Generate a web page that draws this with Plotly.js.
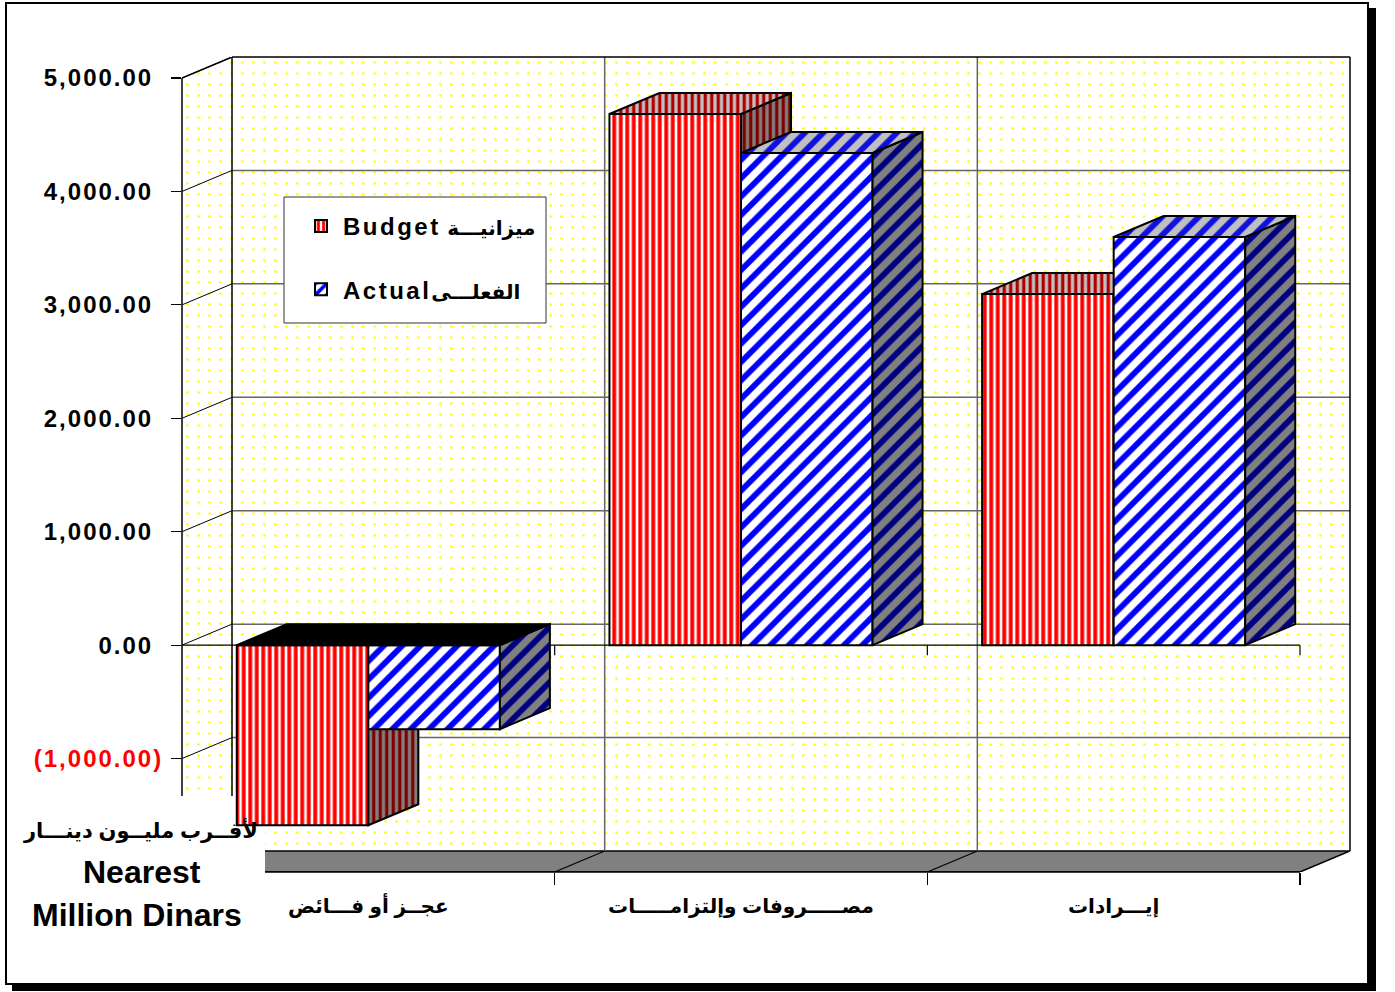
<!DOCTYPE html>
<html><head><meta charset="utf-8">
<script src="https://cdn.plot.ly/plotly-3.0.1.min.js"></script>
<style>
html,body{margin:0;padding:0;background:#fff;}
#chart{width:1395px;height:992px;position:absolute;left:0;top:0;}
#frame{position:absolute;left:5px;top:2px;width:1360px;height:979px;border:2px solid #000;box-shadow:7px 6px 0 #000;pointer-events:none;}
.ytick text{letter-spacing:2px;}
</style></head>
<body>
<div id="chart"></div><div id="frame"></div>
<script>
// ---------- data ----------
const categories = ["عجــز أو فـــائض", "مصـــــروفات وإلتزامـــــات", "إيـــرادات"];
const budgetValues = [-1588, 4683, 3095];
const actualValues = [-741, 4339, 3598];
const seriesLatin = ["Budget", "Actual"];
const seriesArabic = ["ميزانيـــة", "الفعلـــى"];
const yTickVals = [-1000, 0, 1000, 2000, 3000, 4000, 5000];
const yTickText = ["(1,000.00)", "0.00", "1,000.00", "2,000.00", "3,000.00", "4,000.00", "5,000.00"];
const yTickColors = ["#FF0000", "#000000", "#000000", "#000000", "#000000", "#000000", "#000000"];
const axisTitleLines = ["لأقــرب مليــون دينـــار", "Nearest", "Million Dinars"];

// ---------- geometry ----------
const W = 1395, H = 992;
const M = {l:182, r:45, t:57, b:120};
const plotW = W - M.l - M.r, plotH = H - M.t - M.b;
const nCat = categories.length;
const yMin = -2000, yTop = 5000;
const depthPx = 50, depthPy = 21;
const dx = depthPx * nCat / (plotW - depthPx);
const dy = depthPy * (yTop - yMin) / (plotH - depthPy);
const xMin = 0.5, xFront = nCat + 0.5, xMax = xFront + dx, yMax = yTop + dy;
const ppx = plotW / (xMax - xMin), ppy = plotH / (yMax - yMin);
const barW = 0.353;
const pxToX = p => xMin + (p - M.l) / ppx;
const pyToY = p => yMax - (p - M.t) / ppy;
const FONT = "Arial, 'Liberation Sans', 'DejaVu Sans', sans-serif";

const catIdx = categories.map((c, i) => i + 1);
const budgetX = catIdx.map(c => c - barW / 2);
const actualX = catIdx.map(c => c + barW / 2);

function poly(xs, ys, opts) {
  return Object.assign({type:'scatter', mode:'lines', x: xs.concat([xs[0]]), y: ys.concat([ys[0]]),
    fill:'toself', hoverinfo:'skip', showlegend:false}, opts);
}
function segs(list, opts) {
  const x = [], y = [];
  list.forEach(s => { x.push(s[0], s[2], null); y.push(s[1], s[3], null); });
  return Object.assign({type:'scatter', mode:'lines', x, y, hoverinfo:'skip', showlegend:false, connectgaps:false}, opts);
}

const dots = {shape:'.', fgcolor:'#FFFF00', bgcolor:'#FFFFFF', size:11, solidity:0.045};
const traces = [];
// ---------- walls / floor (base layer) ----------
traces.push(poly([xMin, xMin, xMin + dx, xMin + dx], [yMin, yTop, yMax, yMin + dy],
  {fillcolor:'#FFFFFF', fillpattern:dots, line:{width:0}}));
traces.push(poly([xMin + dx, xMax, xMax, xMin + dx], [yMin + dy, yMin + dy, yMax, yMax],
  {fillcolor:'#FFFFFF', fillpattern:dots, line:{width:0}}));
traces.push(poly([xMin, xFront, xMax, xMin + dx], [yMin, yMin, yMin + dy, yMin + dy],
  {fillcolor:'#808080', line:{color:'#000', width:1.5}}));
// back wall gridlines
traces.push(segs(yTickVals.filter(v => v < yTop).map(v => [xMin + dx, v + dy, xMax, v + dy]),
  {line:{color:'#666666', width:1.5}}));
traces.push(segs(catIdx.slice(0, -1).map(c => [c + 0.5 + dx, yMin + dy, c + 0.5 + dx, yMax]),
  {line:{color:'#666666', width:1.5}}));
// left wall gridlines
traces.push(segs(yTickVals.map(v => [xMin, v, xMin + dx, v + dy]), {line:{color:'#000', width:1}}));
// floor dividers
traces.push(segs(catIdx.slice(0, -1).map(c => [c + 0.5, yMin, c + 0.5 + dx, yMin + dy]), {line:{color:'#000', width:1.2}}));
// back wall left edge + left wall top edge
traces.push(segs([[xMin + dx, yMin + dy, xMin + dx, yMax], [xMin, yTop, xMin + dx, yMax]], {line:{color:'#000', width:1.5}}));
// front zero line with category ticks
const zeroTick = 10 / ppy;
traces.push(segs([[xMin, 0, xFront, 0]].concat(catIdx.map(c => [c + 0.5, 0, c + 0.5, -zeroTick])), {line:{color:'#000', width:1.2}}));
// white background of axis title (plot part)
const boxTopY = pyToY(796), boxRightX = pxToX(265);
traces.push(poly([xMin, boxRightX, boxRightX, xMin], [yMin, yMin, boxTopY, boxTopY],
  {fillcolor:'#FFFFFF', line:{width:0}}));

// ---------- bars ----------
const legendName = k => '<span style="letter-spacing:2.5px">' + seriesLatin[k] + '</span>' + (k === 0 ? ' ' : '') +
  '<span style="font-size:20px">' + seriesArabic[k] + '</span>';
const styles = [
  {name: legendName(0), vals: budgetValues, xs: budgetX, xa:'x2', ya:'y2',
   front:{shape:'|', fgcolor:'#FF0000', bgcolor:'#FFFFFF', size:6.5, solidity:0.6},
   top:{shape:'|', fgcolor:'#B00000', bgcolor:'#C0C0C0', size:6.5, solidity:0.5},
   side:{shape:'|', fgcolor:'#800000', bgcolor:'#808080', size:6.5, solidity:0.5}},
  {name: legendName(1), vals: actualValues, xs: actualX, xa:'x3', ya:'y3',
   front:{shape:'/', fgcolor:'#0000FF', bgcolor:'#FFFFFF', size:13, solidity:0.45},
   top:{shape:'/', fgcolor:'#1010E0', bgcolor:'#C0C0C0', size:13, solidity:0.45},
   side:{shape:'/', fgcolor:'#000080', bgcolor:'#808080', size:13, solidity:0.45}}
];
styles.forEach((s, k) => {
  traces.push({type:'bar', name:s.name, x:s.xs, y:s.vals, width:barW, xaxis:s.xa, yaxis:s.ya,
    legendgroup:'g' + k, hoverinfo:'skip',
    marker:{color:'#FFFFFF', line:{color:'#000', width:2}, pattern:s.front}});
  s.vals.forEach((v, i) => {
    const x0 = s.xs[i] - barW / 2, x1 = s.xs[i] + barW / 2;
    const t = Math.max(v, 0);
    traces.push(poly([x1, x1, x1 + dx, x1 + dx], [0, v, v + dy, dy],
      {xaxis:s.xa, yaxis:s.ya, fillcolor:s.side.bgcolor, fillpattern:s.side, line:{color:'#000', width:2}}));
    traces.push(poly([x0, x0 + dx, x1 + dx, x1], [t, t + dy, t + dy, t],
      v >= 0 ? {xaxis:s.xa, yaxis:s.ya, fillcolor:s.top.bgcolor, fillpattern:s.top, line:{color:'#000', width:2}}
             : {xaxis:s.xa, yaxis:s.ya, fillcolor:'#000000', line:{color:'#000', width:2}}));
  });
});

const hiddenAx = {range:[xMin, xMax], visible:false, fixedrange:true};
const hiddenAy = {range:[yMin, yMax], visible:false, fixedrange:true};
const paperX = p => (p - M.l) / plotW;
const paperY = p => 1 - (p - M.t) / plotH;

// accounting-style labels: positives keep an invisible ")" so digits align
const yTickLabels = yTickText.map((t, i) => t.endsWith(')')
  ? '<span style="color:' + yTickColors[i] + '">' + t + '</span>'
  : '<span style="color:' + yTickColors[i] + '">' + t + '</span><span style="color:#FFFFFF">)</span>');

const layout = {
  width:W, height:H, margin:{l:M.l, r:M.r, t:M.t, b:M.b, pad:0},
  paper_bgcolor:'#FFFFFF', plot_bgcolor:'rgba(0,0,0,0)',
  barmode:'overlay', showlegend:true,
  xaxis:{range:[xMin, xMax], fixedrange:true, showgrid:false, zeroline:false, showline:false,
    tickmode:'array', tickvals:catIdx, ticktext:categories, ticks:'', ticklabelstandoff:20,
    tickfont:{family:FONT, size:20, color:'#000', weight:'bold'},
    minor:{tickmode:'array', tickvals:catIdx.map(c => c + 0.5), ticks:'outside', ticklen:12, tickcolor:'#000', tickwidth:1.2, showgrid:false}},
  yaxis:{range:[yMin, yMax], fixedrange:true, showgrid:false, zeroline:false, showline:false,
    tickmode:'array', tickvals:yTickVals, ticktext:yTickLabels,
    ticks:'outside', ticklen:10, tickwidth:1.2, tickcolor:'#000', ticklabelstandoff:3,
    tickfont:{family:FONT, size:24, color:'#000', weight:'bold'}},
  xaxis2:Object.assign({overlaying:'x', anchor:'y2'}, hiddenAx),
  yaxis2:Object.assign({overlaying:'y', anchor:'x2'}, hiddenAy),
  xaxis3:Object.assign({overlaying:'x', anchor:'y3'}, hiddenAx),
  yaxis3:Object.assign({overlaying:'y', anchor:'x3'}, hiddenAy),
  legend:{x:paperX(299), y:paperY(204), xanchor:'left', yanchor:'top', bgcolor:'rgba(0,0,0,0)',
    borderwidth:0, traceorder:'grouped', tracegroupgap:29, itemwidth:34,
    font:{family:FONT, size:24, color:'#000', weight:'bold'}},
  shapes:[
    {type:'rect', xref:'paper', yref:'paper', x0:paperX(284), x1:paperX(546), y0:paperY(323), y1:paperY(197),
     fillcolor:'#FFFFFF', line:{color:'#333', width:1}, layer:'above'},
    {type:'line', xref:'paper', yref:'y', x0:0, x1:0, y0:boxTopY, y1:yTop, line:{color:'#000', width:1.5}, layer:'above'},
    {type:'line', xref:'x', yref:'paper', x0:xMin + dx, x1:xMax, y0:1, y1:1, line:{color:'#000', width:1.5}, layer:'above'},
    {type:'line', xref:'paper', yref:'y', x0:1, x1:1, y0:yMin + dy, y1:yMax, line:{color:'#000', width:1.5}, layer:'above'},
    {type:'line', xref:'x', yref:'paper', x0:boxRightX, x1:xFront, y0:0, y1:0, line:{color:'#000', width:1.5}, layer:'above'}
  ],
  annotations:[
    {xref:'paper', yref:'paper', x:paperX(140), y:paperY(830), xanchor:'center', yanchor:'middle',
     text:axisTitleLines[0], showarrow:false, font:{family:FONT, size:21, color:'#000', weight:'bold'}},
    {xref:'paper', yref:'paper', x:paperX(142), y:paperY(872), xanchor:'center', yanchor:'middle',
     text:axisTitleLines[1], showarrow:false, font:{family:FONT, size:32, color:'#000', weight:'bold'}},
    {xref:'paper', yref:'paper', x:paperX(137), y:paperY(915), xanchor:'center', yanchor:'middle',
     text:axisTitleLines[2], showarrow:false, font:{family:FONT, size:32, color:'#000', weight:'bold'}}
  ]
};
Plotly.newPlot('chart', traces, layout, {staticPlot:true, displayModeBar:false});
</script>
</body></html>
